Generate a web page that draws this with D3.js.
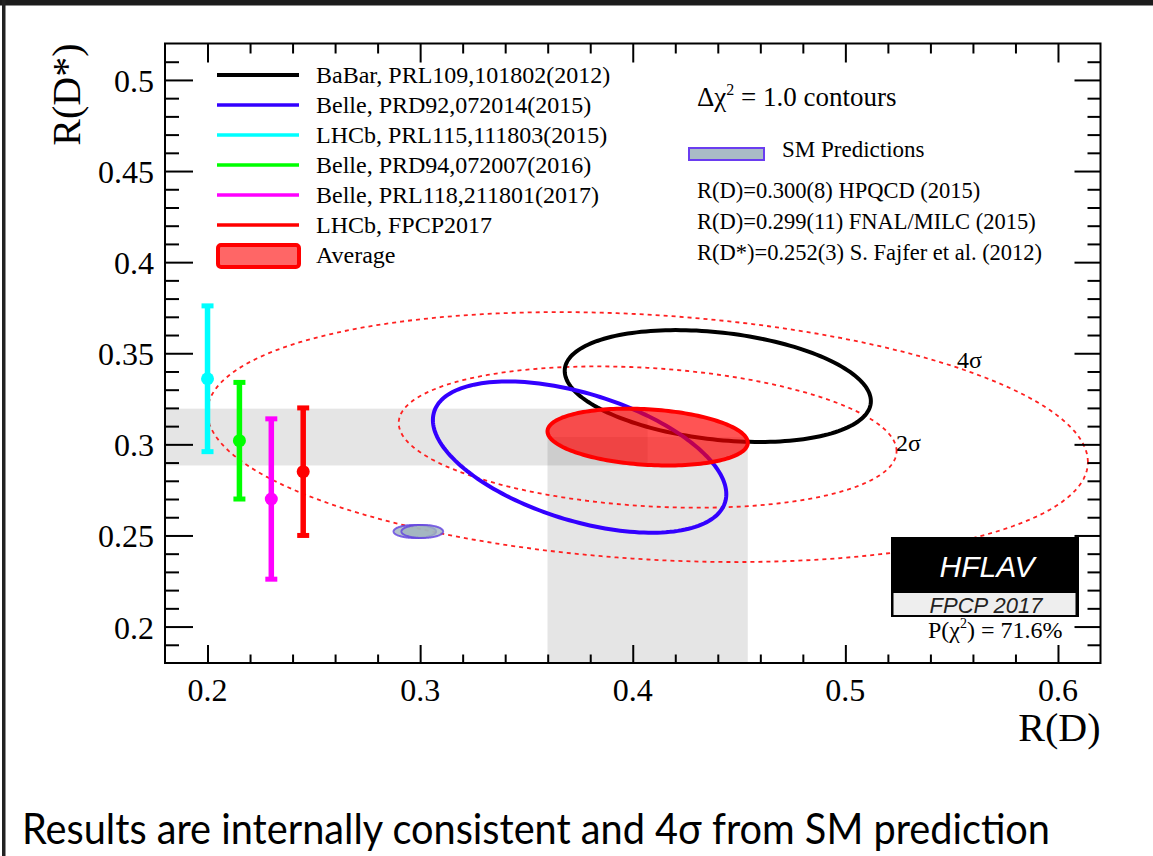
<!DOCTYPE html>
<html>
<head>
<meta charset="utf-8">
<script src="https://cdn.jsdelivr.net/npm/d3@7"></script>
<style>
  body { margin: 0; background: #fff; }
  svg { display: block; }
  .serif { font-family: "Liberation Serif", "Times New Roman", serif; }
</style>
</head>
<body>
<div id="chart"></div>
<script>
// 2D measurements (Delta chi2 = 1 contours)
const expNames = ["BaBar, PRL109,101802(2012)", "Belle, PRD92,072014(2015)",
  "LHCb, PRL115,111803(2015)", "Belle, PRD94,072007(2016)",
  "Belle, PRL118,211801(2017)", "LHCb, FPCP2017"];
const expColors = ["#000000", "#3300ff", "#00ffff", "#00ff00", "#ff00ff", "#ff0000"];

const rdVal = [0.440, 0.375];
const rdErr = [0.072, 0.069];
const rdsVal = [0.332, 0.293];
const rdsErr = [0.0307, 0.0415];
const rho2d = [-0.27, -0.49];

// R(D*)-only measurements, drawn at fixed R(D) positions
const onlyPos = [0.200, 0.215, 0.230, 0.245];
const onlyVal = [0.336, 0.302, 0.270, 0.285];
const onlyUp = [0.040, 0.032, 0.044, 0.035];
const onlyDown = [0.040, 0.032, 0.044, 0.035];

// average
const avgRD = 0.407, avgRDErr = 0.0471;
const avgRDs = 0.304, avgRDsErr = 0.0156;
const avgRho = -0.20;
const sigmaLabels = ["2σ", "4σ"];
const sigmaChi2 = [6.18, 19.33];

// SM predictions
const smRD = [0.2975, 0.301];
const smRDErr = [0.0100, 0.0098];
const smRDs = 0.2522, smRDsErr = 0.0036;

const smLines = ["R(D)=0.300(8) HPQCD (2015)", "R(D)=0.299(11) FNAL/MILC (2015)",
  "R(D*)=0.252(3) S. Fajfer et al. (2012)"];

const xMajor = [0.2, 0.3, 0.4, 0.5, 0.6];
const yMajor = [0.2, 0.25, 0.3, 0.35, 0.4, 0.45, 0.5];

const W = 1153, H = 856;
const L = 165, R = 1100.5, T = 43.5, B = 663;

const svg = d3.select("#chart").append("svg")
  .attr("width", W).attr("height", H);

// page decorations
svg.append("rect").attr("x", 0).attr("y", 0).attr("width", W).attr("height", 5.5).attr("fill", "#1c1c1c");
svg.append("rect").attr("x", 2).attr("y", 0).attr("width", 3.5).attr("height", H).attr("fill", "#222");

const x = d3.scaleLinear().domain([0.18, 0.62]).range([L, R]);
const y = d3.scaleLinear().domain([0.18, 0.52]).range([B, T]);

svg.append("clipPath").attr("id", "plot")
  .append("rect").attr("x", L).attr("y", T).attr("width", R - L).attr("height", B - T);

const g = svg.append("g").attr("clip-path", "url(#plot)");

// grey bands of the average
g.append("rect")
  .attr("x", x(0.18)).attr("width", x(avgRD) - x(0.18))
  .attr("y", y(avgRDs + avgRDsErr)).attr("height", y(avgRDs - avgRDsErr) - y(avgRDs + avgRDsErr))
  .attr("fill", "rgba(0,0,0,0.1)");
g.append("rect")
  .attr("x", x(avgRD - avgRDErr)).attr("width", x(avgRD + avgRDErr) - x(avgRD - avgRDErr))
  .attr("y", y(avgRDs)).attr("height", y(0.18) - y(avgRDs))
  .attr("fill", "rgba(0,0,0,0.1)");

// ellipse points for a given covariance and chi2 level
function ellipse(mx, sx, my, sy, r, chi2) {
  const k = Math.sqrt(chi2);
  return d3.range(0, 361, 2).map(a => {
    const t = a * Math.PI / 180;
    return [mx + k * sx * Math.cos(t),
            my + k * sy * (r * Math.cos(t) + Math.sqrt(1 - r * r) * Math.sin(t))];
  });
}
const line = d3.line().x(d => x(d[0])).y(d => y(d[1])).curve(d3.curveLinearClosed);

// 2 sigma / 4 sigma dotted contours
sigmaChi2.forEach(c => {
  g.append("path")
    .attr("d", line(ellipse(avgRD, avgRDErr, avgRDs, avgRDsErr, avgRho, c)))
    .attr("fill", "none").attr("stroke", "#ff2020").attr("stroke-width", 1.8)
    .attr("stroke-dasharray", "4 4");
});

// SM ellipses
smRD.forEach((v, i) => {
  g.append("path")
    .attr("d", line(ellipse(v, smRDErr[i], smRDs, smRDsErr, 0, 1)))
    .attr("fill", "rgba(160,180,190,0.8)").attr("stroke", "#6040e0")
    .attr("stroke-opacity", 0.8).attr("stroke-width", 2);
});

// R(D*) only error bars
onlyPos.forEach((p, i) => {
  const c = expColors[i + 2];
  const eb = g.append("g");
  eb.append("line")
    .attr("x1", x(p)).attr("x2", x(p))
    .attr("y1", y(onlyVal[i] + onlyUp[i])).attr("y2", y(onlyVal[i] - onlyDown[i]))
    .attr("stroke", c).attr("stroke-width", 5.5);
  [onlyVal[i] + onlyUp[i], onlyVal[i] - onlyDown[i]].forEach(v => {
    eb.append("line")
      .attr("x1", x(p) - 6).attr("x2", x(p) + 6)
      .attr("y1", y(v)).attr("y2", y(v))
      .attr("stroke", c).attr("stroke-width", 5);
  });
  eb.append("circle").attr("cx", x(p)).attr("cy", y(onlyVal[i])).attr("r", 6.5).attr("fill", c);
});

// BaBar and Belle contours
rdVal.forEach((v, i) => {
  g.append("path")
    .attr("d", line(ellipse(v, rdErr[i], rdsVal[i], rdsErr[i], rho2d[i], 1)))
    .attr("fill", "none").attr("stroke", expColors[i]).attr("stroke-width", 4);
});

// average
g.append("path")
  .attr("d", line(ellipse(avgRD, avgRDErr, avgRDs, avgRDsErr, avgRho, 1)))
  .attr("fill", "rgba(255,0,0,0.67)").attr("stroke", "#ff0000").attr("stroke-width", 4);

// axes
function ax(axis, tr, vals, size) {
  const a = svg.append("g").attr("transform", tr)
    .call(axis.tickValues(vals).tickSize(-size).tickFormat(""));
  a.select(".domain").remove();
  a.selectAll("line").attr("stroke", "#000").attr("stroke-width", 2);
  return a;
}
const xMinor = d3.range(0.22, 0.61, 0.02).filter(v => Math.abs(Math.round(v * 10) - v * 10) > 1e-6);
const yMinor = d3.range(0.19, 0.515, 0.01).filter(v => Math.abs(Math.round(v * 20) - v * 20) > 1e-6);

ax(d3.axisBottom(x), `translate(0,${B})`, xMajor, 18);
ax(d3.axisBottom(x), `translate(0,${B})`, xMinor, 8.5);
ax(d3.axisTop(x), `translate(0,${T})`, xMajor, 19);
ax(d3.axisTop(x), `translate(0,${T})`, xMinor, 10);
ax(d3.axisLeft(y), `translate(${L},0)`, yMajor, 28);
ax(d3.axisLeft(y), `translate(${L},0)`, yMinor, 14);
ax(d3.axisRight(y), `translate(${R},0)`, yMajor, 26);
ax(d3.axisRight(y), `translate(${R},0)`, yMinor, 13);

svg.append("rect").attr("x", L).attr("y", T).attr("width", R - L).attr("height", B - T)
  .attr("fill", "none").attr("stroke", "#000").attr("stroke-width", 2);

// tick labels
svg.append("g").selectAll("text").data(xMajor).join("text")
  .attr("class", "serif").attr("x", d => x(d)).attr("y", 701)
  .attr("text-anchor", "middle").attr("font-size", 32).text(d => d3.format(".1f")(d));
svg.append("g").selectAll("text").data(yMajor).join("text")
  .attr("class", "serif").attr("x", 154).attr("y", d => y(d) + 12)
  .attr("text-anchor", "end").attr("font-size", 32).text(d => String(+d.toFixed(2)));

svg.append("text").attr("class", "serif").attr("x", R).attr("y", 741)
  .attr("text-anchor", "end").attr("font-size", 40).text("R(D)");
svg.append("text").attr("class", "serif").attr("transform", `translate(80,${T}) rotate(-90)`)
  .attr("text-anchor", "end").attr("font-size", 40).text("R(D*)");

// legend
const leg = svg.append("g");
expNames.forEach((n, i) => {
  const ly = 75 + i * 30;
  leg.append("line").attr("x1", 217).attr("x2", 299).attr("y1", ly).attr("y2", ly)
    .attr("stroke", expColors[i]).attr("stroke-width", i === 0 ? 4 : 3.5);
  leg.append("text").attr("class", "serif").attr("x", 316).attr("y", ly + 8)
    .attr("font-size", 24).text(n);
});
leg.append("rect").attr("x", 218).attr("y", 245).attr("width", 81).attr("height", 22).attr("rx", 3)
  .attr("fill", "rgba(255,0,0,0.6)").attr("stroke", "#ff0000").attr("stroke-width", 4);
leg.append("text").attr("class", "serif").attr("x", 316).attr("y", 263)
  .attr("font-size", 24).text("Average");

// right-hand texts
const dt = svg.append("text").attr("class", "serif").attr("x", 697).attr("y", 106).attr("font-size", 27);
dt.append("tspan").text("Δχ");
dt.append("tspan").attr("font-size", 16).attr("dy", -11).text("2");
dt.append("tspan").attr("dy", 11).text(" = 1.0 contours");

svg.append("rect").attr("x", 689).attr("y", 148).attr("width", 75).attr("height", 12)
  .attr("fill", "#a9bcc6").attr("stroke", "#6a3df0").attr("stroke-width", 2);
svg.append("text").attr("class", "serif").attr("x", 782).attr("y", 157).attr("font-size", 23).text("SM Predictions");
smLines.forEach((s, i) => {
  svg.append("text").attr("class", "serif").attr("x", 697).attr("y", 198 + i * 31)
    .attr("font-size", 22.5).text(s);
});

// sigma labels
svg.append("text").attr("class", "serif").attr("x", 896).attr("y", 451).attr("font-size", 24).text(sigmaLabels[0]);
svg.append("text").attr("class", "serif").attr("x", 957).attr("y", 368).attr("font-size", 24).text(sigmaLabels[1]);

// HFLAV logo
svg.append("rect").attr("x", 891).attr("y", 537).attr("width", 188).attr("height", 80).attr("fill", "#000");
svg.append("rect").attr("x", 893.5).attr("y", 593).attr("width", 182).attr("height", 22).attr("fill", "#eeeeee");
svg.append("text").attr("x", 987).attr("y", 577).attr("text-anchor", "middle")
  .attr("font-family", "Liberation Sans, Arial, sans-serif").attr("font-style", "italic")
  .attr("font-size", 30).attr("fill", "#fff").text("HFLAV");
svg.append("text").attr("x", 986).attr("y", 612.5).attr("text-anchor", "middle")
  .attr("font-family", "Liberation Sans, Arial, sans-serif").attr("font-style", "italic")
  .attr("font-size", 22).attr("fill", "#222").text("FPCP 2017");

const pt = svg.append("text").attr("class", "serif").attr("x", 928).attr("y", 638).attr("font-size", 24);
pt.append("tspan").text("P(χ");
pt.append("tspan").attr("font-size", 14).attr("dy", -10).text("2");
pt.append("tspan").attr("dy", 10).text(") = 71.6%");

// caption
svg.append("text").attr("x", 22).attr("y", 844)
  .attr("font-family", "Lato, 'Open Sans', sans-serif").attr("font-size", 42)
  .attr("textLength", 1028).attr("lengthAdjust", "spacingAndGlyphs")
  .text("Results are internally consistent and 4σ from SM prediction");
</script>
</body>
</html>
